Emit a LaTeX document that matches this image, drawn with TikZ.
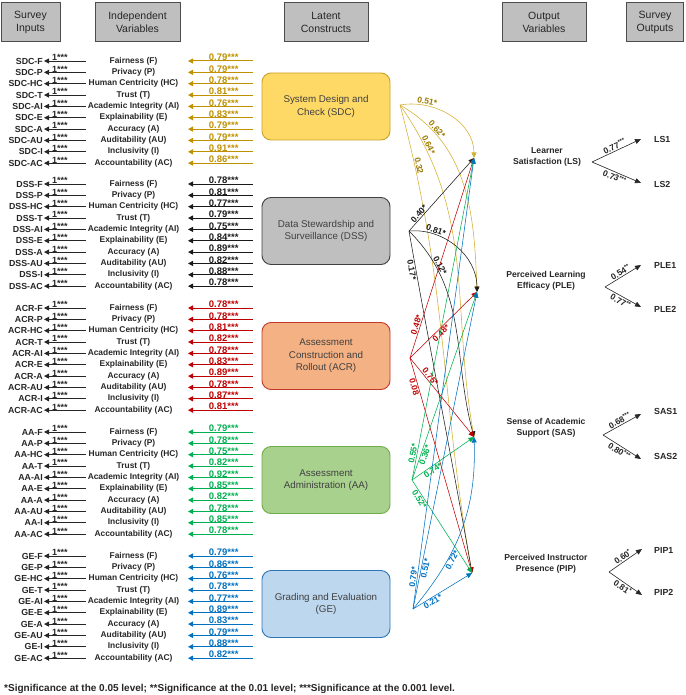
\documentclass[tikz,border=0pt]{standalone}
\usepackage{fontspec}
\setmainfont{Liberation Sans}
\usetikzlibrary{arrows.meta}
\definecolor{txt}{HTML}{262626}
\definecolor{boxtxt}{HTML}{404040}
\definecolor{hdrgray}{HTML}{BFBFBF}
\definecolor{cSDC}{HTML}{BF9000}
\definecolor{cSDCl}{HTML}{D4AE2E}
\definecolor{cSDCt}{HTML}{9E7A00}
\definecolor{cSDCfill}{HTML}{FFD966}
\definecolor{cSDCb}{HTML}{C9A227}
\definecolor{cDSS}{HTML}{1A1A1A}
\definecolor{cDSSfill}{HTML}{BFBFBF}
\definecolor{cDSSb}{HTML}{404040}
\definecolor{cACR}{HTML}{C00000}
\definecolor{cACRfill}{HTML}{F4B183}
\definecolor{cACRb}{HTML}{C0392B}
\definecolor{cAA}{HTML}{00B050}
\definecolor{cAAfill}{HTML}{A9D18E}
\definecolor{cAAb}{HTML}{70AD47}
\definecolor{cGE}{HTML}{0070C0}
\definecolor{cGEfill}{HTML}{BDD7EE}
\definecolor{cGEb}{HTML}{2E75B6}
\newcommand\myvname[1]{\ifcase#1 Fairness (F)\or Privacy (P)\or Human Centricity (HC)\or Trust (T)\or Academic Integrity (AI)\or Explainability (E)\or Accuracy (A)\or Auditability (AU)\or Inclusivity (I)\or Accountability (AC)\fi}
\newcommand\myvab[1]{\ifcase#1 F\or P\or HC\or T\or AI\or E\or A\or AU\or I\or AC\fi}
\newcommand\drawgroup[4]{%
  \foreach \v [count=\i from 0] in {#4}{%
    \pgfmathsetmacro\yy{-(#2+11.35*\i)}%
    \edef\ab{\myvab{\i}}%
    \node[inlab,anchor=east] (#1-\ab) at (44,\yy) {#1-\ab};
    \coordinate (#1-\ab-s) at (86,\yy);
    \draw[blk] (#1-\ab-s) -- (#1-\ab.east) node[pos=0.62,above=-0.8pt,onelab]{1***};
    \node[varlab] (#1-\ab-v) at (133.5,\yy) {\myvname{\i}};
    \coordinate (#1-\ab-c) at (253,\yy);
    \coordinate (#1-\ab-d) at (188,\yy);
    \draw[carr,color=#3] (#1-\ab-c) -- (#1-\ab-d) node[pos=0.45,above=-0.8pt,clab,text=#3]{\v***};
  }%
}
\begin{document}
\begin{tikzpicture}[x=1pt,y=1pt,
  hdr/.style={draw=black!70, fill=hdrgray, line width=1pt, minimum height=39pt, align=center, font=\fontsize{10.5}{13}\selectfont, text=txt, inner sep=1pt},
  cbox/.style={rounded corners=9pt, minimum width=128pt, minimum height=67pt, line width=0.9pt, align=center, font=\fontsize{9.8}{12.5}\selectfont, text=boxtxt},
  inlab/.style={font=\bfseries\fontsize{8.8}{9}\selectfont, text=txt, inner sep=1pt},
  varlab/.style={font=\bfseries\fontsize{8.4}{9}\selectfont, text=txt, inner sep=0pt},
  onelab/.style={font=\bfseries\fontsize{9}{9}\selectfont, text=txt, inner sep=0.5pt},
  blk/.style={line width=0.8pt, draw=txt, -{Triangle[length=5pt,width=5pt]}},
  carr/.style={line width=1pt, -{Triangle[length=5pt,width=5pt]}},
  clab/.style={font=\bfseries\fontsize{9.5}{9.5}\selectfont, inner sep=0.5pt},
  mid/.style={line width=0.55pt, -{Triangle[length=5.5pt,width=5pt]}},
  ml/.style={font=\bfseries\fontsize{8.5}{9}\selectfont, sloped, inner sep=0.8pt},
  outv/.style={font=\bfseries\fontsize{8.6}{11.5}\selectfont, text=txt, align=center},
  oarr/.style={line width=0.6pt, draw=txt, -{Triangle[length=6pt,width=5pt]}},
  olab/.style={font=\bfseries\fontsize{8.5}{9}\selectfont, text=txt, sloped, inner sep=1pt},
  outlab/.style={font=\bfseries\fontsize{8.8}{9}\selectfont, text=txt, anchor=west, inner sep=0pt},
]
\useasboundingbox (0,0) rectangle (685,-695);
% headers
\node[hdr, minimum width=59pt] (h1) at (30.5,-22.5) {Survey\\Inputs};
\node[hdr, minimum width=85pt] (h2) at (137.5,-22.5) {Independent\\Variables};
\node[hdr, minimum width=84pt] (h3) at (326,-22.5) {Latent\\Constructs};
\node[hdr, minimum width=84pt] (h4) at (544,-22.5) {Output\\Variables};
\node[hdr, minimum width=57pt] (h5) at (655,-22.5) {Survey\\Outputs};
% left groups
\drawgroup{SDC}{61}{cSDC}{0.79,0.79,0.78,0.81,0.76,0.83,0.79,0.79,0.91,0.86}
\drawgroup{DSS}{184}{cDSS}{0.78,0.81,0.77,0.79,0.75,0.84,0.89,0.82,0.88,0.78}
\drawgroup{ACR}{308}{cACR}{0.78,0.78,0.81,0.82,0.78,0.83,0.89,0.78,0.87,0.81}
\drawgroup{AA}{432}{cAA}{0.79,0.78,0.75,0.82,0.92,0.85,0.82,0.78,0.85,0.78}
\drawgroup{GE}{556}{cGE}{0.79,0.86,0.76,0.78,0.77,0.89,0.83,0.79,0.88,0.82}
% construct boxes
\node[cbox, fill=cSDCfill, draw=cSDCb] (SDC) at (326,-106.5) {System Design and\\Check (SDC)};
\node[cbox, fill=cDSSfill, draw=cDSSb] (DSS) at (326,-231) {Data Stewardship and\\Surveillance (DSS)};
\node[cbox, fill=cACRfill, draw=cACRb] (ACR) at (326,-356) {Assessment\\Construction and\\Rollout (ACR)};
\node[cbox, fill=cAAfill, draw=cAAb] (AA) at (326,-480) {Assessment\\Administration (AA)};
\node[cbox, fill=cGEfill, draw=cGEb] (GE) at (326,-604) {Grading and Evaluation\\(GE)};
% sources and targets
\coordinate (sSDC) at (400,-105);
\coordinate (sDSS) at (409,-231);
\coordinate (sACR) at (410,-358);
\coordinate (sAA) at (412,-480);
\coordinate (sGE) at (413,-609);
\coordinate (tLS) at (474,-158);
\coordinate (tPLE) at (477,-292);
\coordinate (tSAS) at (474,-437);
\coordinate (tPIP) at (472,-573);
% SDC edges
\draw[mid,cSDCl] (sSDC) to[out=10,in=90] node[ml,pos=0.25,above,text=cSDCt]{0.51*} (tLS);
\draw[mid,cSDCl] (sSDC) to[out=-30,in=92] node[ml,pos=0.2,above,text=cSDCt]{0.62*} (tPLE);
\draw[mid,cSDCl] (sSDC) to[out=-55,in=100] node[ml,pos=0.13,above,text=cSDCt]{0.64*} (tSAS);
\draw[mid,cSDCl] (sSDC) to[out=-75,in=100] node[ml,pos=0.12,above,text=cSDCt]{0.32} (tPIP);
% DSS edges
\draw[mid,cDSS] (sDSS) -- node[ml,pos=0.2,above]{0.40*} (tLS);
\draw[mid,cDSS] (sDSS) to[out=5,in=90] node[ml,pos=0.25,above]{0.81*} (tPLE);
\draw[mid,cDSS] (sDSS) to[out=-45,in=105] node[ml,pos=0.2,above]{0.12*} (tSAS);
\draw[mid,cDSS] (sDSS) to[out=-80,in=100] node[ml,pos=0.1,below]{0.17*} (tPIP);
% ACR edges
\draw[mid,cACR] (sACR) -- node[ml,pos=0.16,above]{0.48*} (tLS);
\draw[mid,cACR] (sACR) -- node[ml,pos=0.42,below]{0.48*} (tPLE);
\draw[mid,cACR] (sACR) -- node[ml,pos=0.27,above]{0.75*} (tSAS);
\draw[mid,cACR] (sACR) -- node[ml,pos=0.13,below]{0.08} (tPIP);
% AA edges
\draw[mid,cAA] (sAA) -- node[ml,pos=0.08,above]{0.55*} (tLS);
\draw[mid,cAA] (sAA) -- node[ml,pos=0.14,below]{0.36*} (tPLE);
\draw[mid,cAA] (sAA) -- node[ml,pos=0.3,below]{0.74*} (tSAS);
\draw[mid,cAA] (sAA) -- node[ml,pos=0.18,below]{0.52*} (tPIP);
% GE edges
\draw[mid,cGE] (sGE) -- node[ml,pos=0.07,above]{0.79*} (tLS);
\draw[mid,cGE] (sGE) -- node[ml,pos=0.13,below]{0.51*} (tPLE);
\draw[mid,cGE] (sGE) to[out=50,in=-88] node[ml,pos=0.32,below]{0.72*} (tSAS);
\draw[mid,cGE] (sGE) -- node[ml,pos=0.3,below]{0.21*} (tPIP);
% output variables
\node[outv] (LS) at (547,-157) {Learner\\Satisfaction (LS)};
\node[outv] (PLE) at (546,-281) {Perceived Learning\\Efficacy (PLE)};
\node[outv] (SAS) at (546,-428) {Sense of Academic\\Support (SAS)};
\node[outv] (PIP) at (546,-564) {Perceived Instructor\\Presence (PIP)};
% branches
\coordinate (bLS) at (592,-162);
\coordinate (bPLE) at (605,-287);
\coordinate (bSAS) at (603,-435);
\coordinate (bPIP) at (609,-572);
\coordinate (tLS1) at (641,-139);
\coordinate (tLS2) at (641,-183);
\coordinate (tPLE1) at (641,-265);
\coordinate (tPLE2) at (641,-307);
\coordinate (tSAS1) at (641,-414);
\coordinate (tSAS2) at (641,-459);
\coordinate (tPIP1) at (642,-549);
\coordinate (tPIP2) at (642,-595);
\node[outlab] (LS1) at (654,-139) {LS1};
\node[outlab] (LS2) at (654,-184) {LS2};
\node[outlab] (PLE1) at (654,-265) {PLE1};
\node[outlab] (PLE2) at (654,-309) {PLE2};
\node[outlab] (SAS1) at (654,-411) {SAS1};
\node[outlab] (SAS2) at (654,-456) {SAS2};
\node[outlab] (PIP1) at (654,-550) {PIP1};
\node[outlab] (PIP2) at (654,-592) {PIP2};
\draw[oarr] (bLS) -- node[olab,midway,above]{0.77\textsuperscript{***}} (tLS1);
\draw[oarr] (bLS) -- node[olab,midway,below]{0.73\textsuperscript{***}} (tLS2);
\draw[oarr] (bPLE) -- node[olab,midway,above]{0.54\textsuperscript{**}} (tPLE1);
\draw[oarr] (bPLE) -- node[olab,midway,below]{0.77\textsuperscript{**}} (tPLE2);
\draw[oarr] (bSAS) -- node[olab,midway,above]{0.68\textsuperscript{***}} (tSAS1);
\draw[oarr] (bSAS) -- node[olab,midway,below]{0.80\textsuperscript{***}} (tSAS2);
\draw[oarr] (bPIP) -- node[olab,midway,above]{0.60\textsuperscript{*}} (tPIP1);
\draw[oarr] (bPIP) -- node[olab,midway,below]{0.81\textsuperscript{*}} (tPIP2);
% footer
\node[anchor=west, font=\bfseries\fontsize{10}{11}\selectfont, text=txt, inner sep=0pt] (foot) at (4,-689) {*Significance at the 0.05 level; **Significance at the 0.01 level; ***Significance at the 0.001 level.};
\end{tikzpicture}
\end{document}
